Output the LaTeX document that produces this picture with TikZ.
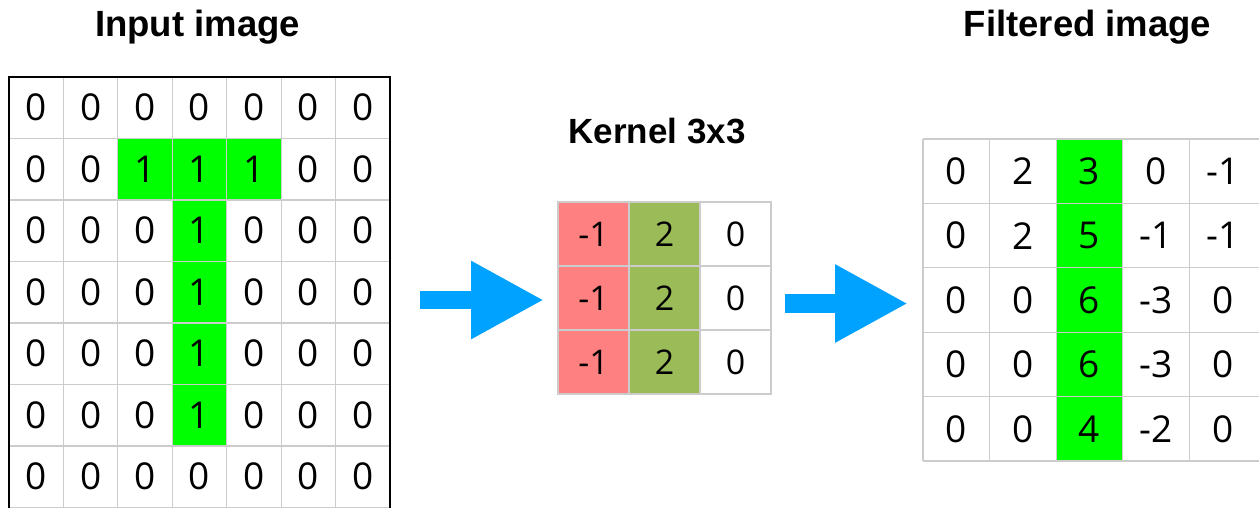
\documentclass[tikz,border=0pt]{standalone}
\usepackage{fontspec}
\setmainfont{Open Sans}
\newfontfamily\titlefont{Liberation Sans}
\usetikzlibrary{arrows.meta}

\definecolor{cellgreen}{RGB}{0,255,0}
\definecolor{kred}{RGB}{255,128,128}
\definecolor{kolive}{RGB}{155,187,89}
\definecolor{arrowblue}{RGB}{0,162,255}
\definecolor{gridgray}{RGB}{204,204,204}

\begin{document}
\begin{tikzpicture}[x=1pt,y=-1pt,
  title/.style={font=\titlefont\bfseries\fontsize{36.5}{40}\selectfont, anchor=base, inner sep=0pt},
  smalltitle/.style={title, font=\titlefont\bfseries\fontsize{35}{40}\selectfont},
  cellbase/.style={rectangle, inner sep=0pt, outer sep=0pt, anchor=center},
  incell/.style={cellbase, draw=gridgray, line width=1.2pt, minimum width=54.43pt, minimum height=61.5pt,
                 font=\fontsize{37}{40}\selectfont},
  kcell/.style={cellbase, draw=gridgray, line width=1.2pt, minimum width=71pt, minimum height=64pt,
                font=\fontsize{34}{38}\selectfont},
  fcell/.style={cellbase, minimum width=66.6pt, minimum height=64.4pt,
                font=\fontsize{37}{40}\selectfont},
  gridline/.style={draw=gridgray, line width=1.2pt},
  frameline/.style={draw=black, line width=2.2pt},
  bigarrow/.style={draw=arrowblue, line width=18.5pt,
                   -{Triangle[length=73pt, width=73pt, fill=arrowblue]}}
]
\useasboundingbox (0,0) rectangle (1259,507);

% titles
\node[title] (tin) at (197.5,36) {Input image};
\node[smalltitle] (tk) at (657,143) {Kernel 3x3};
\node[title] (tf) at (1087.5,36) {Filtered image};

% input image, 7x7
\foreach \rowvals [count=\r] in {
  {0,0,0,0,0,0,0},
  {0,0,1,1,1,0,0},
  {0,0,0,1,0,0,0},
  {0,0,0,1,0,0,0},
  {0,0,0,1,0,0,0},
  {0,0,0,1,0,0,0},
  {0,0,0,0,0,0,0}} {
  \foreach \v [count=\c] in \rowvals {
    \ifnum\v=1 \def\fc{cellgreen}\else\def\fc{white}\fi
    \node[incell, fill=\fc] (in-\r-\c) at ({9+54.43*(\c-0.5)},{77+61.5*(\r-0.5)}) {\v};
  }
}
\draw[frameline] (in-7-1.south west) |- (in-1-7.north east) -- (in-7-7.south east);

% kernel, 3x3
\foreach \r in {1,2,3} {
  \node[kcell, fill=kred]   (k-\r-1) at ({558+71*0.5},{202+64*(\r-0.5)}) {-1};
  \node[kcell, fill=kolive] (k-\r-2) at ({558+71*1.5},{202+64*(\r-0.5)}) {2};
  \node[kcell, fill=white]  (k-\r-3) at ({558+71*2.5},{202+64*(\r-0.5)}) {0};
}

% filtered image, 5x5
\foreach \rowvals [count=\r] in {
  {0,2,3,0,-1},
  {0,2,5,-1,-1},
  {0,0,6,-3,0},
  {0,0,6,-3,0},
  {0,0,4,-2,0}} {
  \foreach \v [count=\c] in \rowvals {
    \ifnum\c=3 \def\fc{cellgreen}\else\def\fc{white}\fi
    \node[fcell, fill=\fc] (f-\r-\c) at ({923+66.6*(\c-0.5)},{139+64.4*(\r-0.5)}) {\v};
  }
}
\foreach \r in {1,...,5} {
  \draw[gridline] (f-\r-1.north west) -- ++(340,0);
  \foreach \c in {1,...,5} {
    \draw[gridline] (f-\r-\c.north west) -- (f-\r-\c.south west);
  }
}
\draw[gridline] (f-5-1.south west) -- ++(340,0);

% arrows between the stages
\coordinate (a1s) at (420,300);
\coordinate (a1e) at (544,300);
\coordinate (a2s) at (785,303.5);
\coordinate (a2e) at (908,303.5);
\draw[bigarrow] (a1s) -- (a1e);
\draw[bigarrow] (a2s) -- (a2e);
\end{tikzpicture}
\end{document}
